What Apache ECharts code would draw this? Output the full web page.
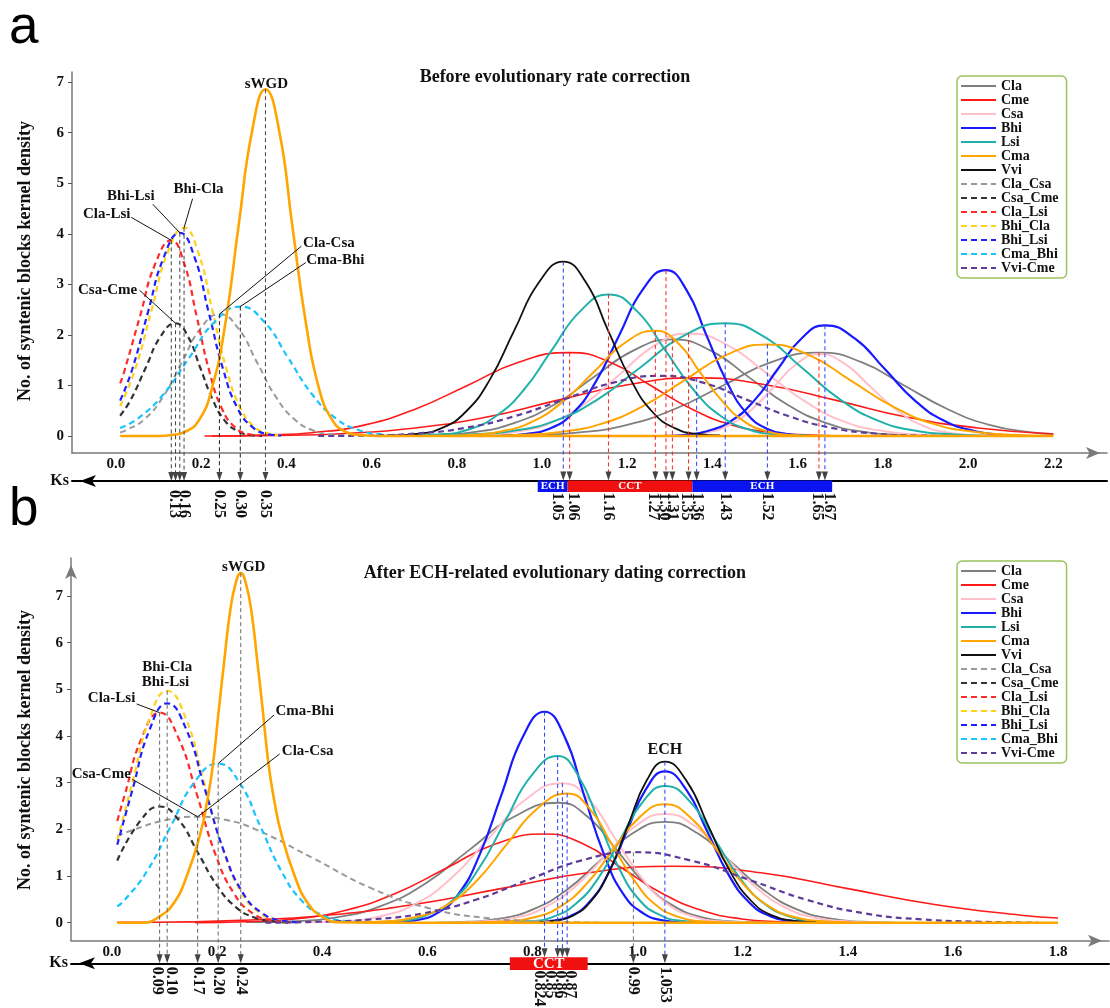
<!DOCTYPE html>
<html lang="en">
<head>
<meta charset="UTF-8">
<title>Syntenic blocks Ks kernel density</title>
<script src="https://cdn.jsdelivr.net/npm/echarts@6/dist/echarts.min.js"></script>
<style>
  html, body { margin: 0; padding: 0; background: #fff; }
  #chart { width: 1110px; height: 1008px; }
</style>
</head>
<body>
<div id="chart"></div>
<script>
// ---------------- data ----------------
var legendNames = ['Cla', 'Cme', 'Csa', 'Bhi', 'Lsi', 'Cma', 'Vvi', 'Cla_Csa', 'Csa_Cme', 'Cla_Lsi', 'Bhi_Cla', 'Bhi_Lsi', 'Cma_Bhi', 'Vvi-Cme'];
var xTicksA = [0.0, 0.2, 0.4, 0.6, 0.8, 1.0, 1.2, 1.4, 1.6, 1.8, 2.0, 2.2];
var xTicksB = [0.0, 0.2, 0.4, 0.6, 0.8, 1.0, 1.2, 1.4, 1.6, 1.8];
var yTicks = [0, 1, 2, 3, 4, 5, 6, 7];

// panel a : [Ks, density]
var a_Cla_1 = [[0.659,0.0],[0.751,0.02],[0.844,0.08],[0.936,0.26],[1.029,0.62],[1.121,1.16],[1.214,1.69],[1.306,1.91],[1.396,1.69],[1.486,1.16],[1.576,0.62],[1.666,0.26],[1.756,0.08],[1.846,0.02],[1.936,0.0]];
var a_Cla_2 = [[0.863,0.0],[0.975,0.02],[1.088,0.07],[1.2,0.22],[1.313,0.54],[1.425,1.0],[1.538,1.46],[1.65,1.65],[1.75,1.46],[1.85,1.0],[1.95,0.54],[2.05,0.22],[2.15,0.07],[2.2,0.04]];
var a_Cme_1 = [[0.225,0.0],[0.345,0.02],[0.465,0.07],[0.585,0.22],[0.705,0.54],[0.825,1.0],[0.945,1.46],[1.065,1.65],[1.16,1.46],[1.255,1.0],[1.35,0.54],[1.445,0.22],[1.54,0.07],[1.635,0.02],[1.73,0.0]];
var a_Cme_2 = [[0.208,0.0],[0.373,0.01],[0.538,0.05],[0.703,0.16],[0.868,0.37],[1.033,0.7],[1.198,1.01],[1.363,1.15],[1.528,1.01],[1.693,0.7],[1.858,0.37],[2.023,0.16],[2.2,0.04]];
var a_Csa_1 = [[0.784,0.0],[0.864,0.02],[0.944,0.09],[1.024,0.27],[1.104,0.66],[1.184,1.23],[1.264,1.79],[1.344,2.03],[1.437,1.79],[1.529,1.23],[1.622,0.66],[1.714,0.27],[1.807,0.09],[1.899,0.02],[1.992,0.0]];
var a_Csa_2 = [[1.283,0.0],[1.335,0.02],[1.388,0.07],[1.44,0.22],[1.493,0.53],[1.545,0.98],[1.598,1.43],[1.65,1.62],[1.71,1.43],[1.77,0.98],[1.83,0.53],[1.89,0.22],[1.95,0.07],[2.01,0.02],[2.07,0.0]];
var a_Bhi_1 = [[0.906,0.01],[0.961,0.04],[1.016,0.14],[1.071,0.44],[1.126,1.07],[1.181,1.99],[1.236,2.89],[1.291,3.28],[1.339,2.89],[1.386,1.99],[1.434,1.07],[1.481,0.44],[1.529,0.14],[1.576,0.04],[1.624,0.01]];
var a_Bhi_2 = [[1.279,0.0],[1.334,0.02],[1.389,0.1],[1.444,0.3],[1.499,0.71],[1.554,1.33],[1.609,1.93],[1.664,2.19],[1.734,1.93],[1.804,1.33],[1.874,0.71],[1.944,0.3],[2.014,0.1],[2.084,0.02],[2.154,0.0]];
var a_Lsi_1 = [[0.691,0.01],[0.757,0.03],[0.824,0.12],[0.89,0.38],[0.957,0.91],[1.023,1.7],[1.09,2.47],[1.156,2.8],[1.223,2.47],[1.289,1.7],[1.356,0.91],[1.422,0.38],[1.489,0.12],[1.555,0.03],[1.622,0.01]];
var a_Lsi_2 = [[0.73,0.0],[0.83,0.03],[0.93,0.1],[1.03,0.3],[1.13,0.72],[1.23,1.35],[1.33,1.97],[1.43,2.23],[1.52,1.97],[1.61,1.35],[1.7,0.72],[1.79,0.3],[1.88,0.1],[1.97,0.03],[2.06,0.0]];
var a_Cma_sWGD = [[0.01,0],[0.1,0],[0.131,0.02],[0.162,0.08],[0.194,0.3],[0.225,0.93],[0.257,2.23],[0.288,4.16],[0.32,6.05],[0.351,6.86],[0.383,6.05],[0.414,4.16],[0.446,2.23],[0.477,0.93],[0.509,0.3],[0.54,0.08],[0.572,0.02],[0.62,0],[2.2,0]];
var a_Cma_1 = [[0.759,0.0],[0.831,0.02],[0.904,0.09],[0.976,0.28],[1.049,0.68],[1.121,1.26],[1.194,1.84],[1.266,2.08],[1.319,1.84],[1.371,1.26],[1.424,0.68],[1.476,0.28],[1.529,0.09],[1.581,0.02],[1.634,0.0]];
var a_Cma_2 = [[0.847,0.0],[0.944,0.02],[1.042,0.08],[1.139,0.24],[1.237,0.59],[1.334,1.1],[1.432,1.6],[1.529,1.81],[1.627,1.6],[1.724,1.1],[1.822,0.59],[1.919,0.24],[2.017,0.08],[2.114,0.02],[2.2,0.0]];
var a_Vvi = [[0.648,0.01],[0.705,0.04],[0.763,0.15],[0.82,0.47],[0.878,1.12],[0.935,2.09],[0.993,3.04],[1.05,3.45],[1.103,3.04],[1.155,2.09],[1.208,1.12],[1.26,0.47],[1.313,0.15],[1.365,0.04],[1.418,0.01]];
var a_Cla_Csa = [[0.01,0.07],[0.023,0.11],[0.067,0.33],[0.111,0.78],[0.155,1.46],[0.199,2.13],[0.243,2.41],[0.287,2.13],[0.331,1.46],[0.375,0.78],[0.419,0.33],[0.463,0.11],[0.507,0.03],[0.551,0.0]];
var a_Csa_Cme = [[0.01,0.4],[0.035,0.72],[0.07,1.35],[0.105,1.97],[0.14,2.23],[0.169,1.97],[0.198,1.35],[0.227,0.72],[0.256,0.3],[0.285,0.1],[0.314,0.02],[0.343,0.0]];
var a_Cla_Lsi = [[0.01,1.04],[0.019,1.26],[0.056,2.35],[0.093,3.42],[0.13,3.87],[0.16,3.42],[0.19,2.35],[0.22,1.26],[0.25,0.52],[0.28,0.17],[0.31,0.04],[0.34,0.01]];
var a_Bhi_Cla = [[0.01,0.59],[0.046,1.34],[0.084,2.5],[0.122,3.64],[0.16,4.12],[0.193,3.64],[0.226,2.5],[0.259,1.34],[0.292,0.56],[0.325,0.18],[0.358,0.05],[0.391,0.01]];
var a_Bhi_Lsi = [[0.01,0.7],[0.038,1.31],[0.075,2.44],[0.113,3.55],[0.15,4.02],[0.184,3.55],[0.218,2.44],[0.252,1.31],[0.286,0.54],[0.32,0.18],[0.354,0.04],[0.388,0.01]];
var a_Cma_Bhi = [[0.01,0.16],[0.052,0.35],[0.112,0.83],[0.172,1.55],[0.232,2.26],[0.292,2.56],[0.348,2.26],[0.404,1.55],[0.46,0.83],[0.516,0.35],[0.572,0.11],[0.628,0.03],[0.684,0.0]];
var a_Vvi_Cme = [[0.475,0.0],[0.59,0.01],[0.705,0.05],[0.82,0.16],[0.935,0.39],[1.05,0.72],[1.165,1.05],[1.28,1.19],[1.38,1.05],[1.48,0.72],[1.58,0.39],[1.68,0.16],[1.78,0.05],[1.88,0.01],[1.98,0.0]];

// panel b : [Ks, density]
var b_Cla_1 = [[0.255,0.01],[0.34,0.03],[0.425,0.11],[0.51,0.35],[0.595,0.83],[0.68,1.56],[0.765,2.27],[0.85,2.57],[0.905,2.27],[0.96,1.56],[1.015,0.83],[1.07,0.35],[1.125,0.11],[1.18,0.03],[1.235,0.01]];
var b_Cla_2 = [[0.615,0.0],[0.677,0.02],[0.74,0.09],[0.802,0.29],[0.865,0.7],[0.927,1.31],[0.99,1.91],[1.052,2.16],[1.115,1.91],[1.177,1.31],[1.24,0.7],[1.302,0.29],[1.365,0.09],[1.427,0.02],[1.49,0.0]];
var b_Cme_1 = [[0.158,0.0],[0.253,0.02],[0.348,0.08],[0.443,0.26],[0.538,0.62],[0.633,1.15],[0.728,1.68],[0.823,1.9],[0.898,1.68],[0.973,1.15],[1.048,0.62],[1.123,0.26],[1.198,0.08],[1.273,0.02],[1.348,0.0]];
var b_Cme_2 = [[0.01,0.01],[0.08,0.01],[0.245,0.05],[0.41,0.16],[0.575,0.39],[0.74,0.73],[0.905,1.07],[1.07,1.21],[1.235,1.07],[1.4,0.73],[1.565,0.39],[1.73,0.16],[1.8,0.1]];
var b_Csa_1 = [[0.367,0.01],[0.437,0.03],[0.507,0.13],[0.577,0.4],[0.647,0.97],[0.717,1.81],[0.787,2.64],[0.857,2.99],[0.907,2.64],[0.957,1.81],[1.007,0.97],[1.057,0.4],[1.107,0.13],[1.157,0.03],[1.207,0.01]];
var b_Csa_2 = [[0.65,0.0],[0.707,0.03],[0.765,0.1],[0.822,0.32],[0.88,0.76],[0.937,1.41],[0.995,2.06],[1.052,2.33],[1.11,2.06],[1.167,1.41],[1.225,0.76],[1.282,0.32],[1.34,0.1],[1.397,0.03],[1.455,0.0]];
var b_Bhi_1 = [[0.536,0.01],[0.577,0.05],[0.618,0.2],[0.659,0.61],[0.7,1.47],[0.741,2.74],[0.782,3.99],[0.823,4.52],[0.861,3.99],[0.898,2.74],[0.936,1.47],[0.973,0.61],[1.011,0.2],[1.048,0.05],[1.086,0.01]];
var b_Bhi_2 = [[0.8,0.01],[0.836,0.04],[0.872,0.14],[0.908,0.44],[0.944,1.05],[0.98,1.97],[1.016,2.86],[1.052,3.24],[1.092,2.86],[1.132,1.97],[1.172,1.05],[1.212,0.44],[1.252,0.14],[1.292,0.04],[1.332,0.01]];
var b_Lsi_1 = [[0.498,0.01],[0.548,0.04],[0.598,0.16],[0.648,0.48],[0.698,1.16],[0.748,2.17],[0.798,3.15],[0.848,3.57],[0.887,3.15],[0.926,2.17],[0.965,1.16],[1.004,0.48],[1.043,0.16],[1.082,0.04],[1.121,0.01]];
var b_Lsi_2 = [[0.755,0.01],[0.797,0.03],[0.84,0.13],[0.882,0.4],[0.925,0.95],[0.967,1.78],[1.01,2.59],[1.052,2.93],[1.1,2.59],[1.147,1.78],[1.195,0.95],[1.242,0.4],[1.29,0.13],[1.337,0.03],[1.385,0.01]];
var b_Cma_sWGD = [[0.01,0],[0.06,0],[0.09,0.13],[0.117,0.41],[0.142,0.99],[0.168,1.91],[0.181,2.6],[0.192,3.38],[0.203,4.54],[0.214,5.65],[0.224,6.61],[0.235,7.26],[0.245,7.49],[0.255,7.26],[0.266,6.61],[0.276,5.65],[0.287,4.54],[0.298,3.38],[0.309,2.6],[0.322,1.91],[0.348,0.99],[0.373,0.41],[0.4,0.13],[0.43,0.01],[0.5,0],[1.8,0]];
var b_Cma_1 = [[0.464,0.01],[0.521,0.03],[0.579,0.12],[0.636,0.37],[0.694,0.9],[0.751,1.68],[0.809,2.44],[0.866,2.77],[0.909,2.44],[0.951,1.68],[0.994,0.9],[1.036,0.37],[1.079,0.12],[1.121,0.03],[1.164,0.01]];
var b_Cma_2 = [[0.702,0.01],[0.752,0.03],[0.802,0.11],[0.852,0.34],[0.902,0.82],[0.952,1.54],[1.002,2.24],[1.052,2.54],[1.102,2.24],[1.152,1.54],[1.202,0.82],[1.252,0.34],[1.302,0.11],[1.352,0.03],[1.402,0.01]];
var b_Vvi = [[0.807,0.01],[0.842,0.04],[0.877,0.15],[0.912,0.47],[0.947,1.12],[0.982,2.09],[1.017,3.04],[1.052,3.45],[1.093,3.04],[1.134,2.09],[1.175,1.12],[1.216,0.47],[1.257,0.15],[1.298,0.04],[1.339,0.01]];
var b_Cla_Csa = [[0.01,1.85],[0.043,2.0],[0.103,2.2],[0.163,2.27],[0.218,2.2],[0.273,2.0],[0.383,1.38],[0.493,0.74],[0.603,0.31],[0.713,0.1],[0.823,0.03],[0.933,0.0]];
var b_Csa_Cme = [[0.01,1.33],[0.055,2.2],[0.091,2.49],[0.127,2.2],[0.163,1.51],[0.199,0.81],[0.235,0.34],[0.271,0.11],[0.307,0.03],[0.343,0.0]];
var b_Cla_Lsi = [[0.01,2.18],[0.024,2.73],[0.057,3.97],[0.091,4.5],[0.126,3.97],[0.162,2.73],[0.197,1.46],[0.233,0.61],[0.268,0.2],[0.304,0.05],[0.339,0.01]];
var b_Bhi_Cla = [[0.01,1.76],[0.039,3.01],[0.072,4.39],[0.105,4.97],[0.14,4.39],[0.175,3.01],[0.21,1.61],[0.245,0.67],[0.28,0.22],[0.315,0.06],[0.35,0.01]];
var b_Bhi_Lsi = [[0.01,1.67],[0.039,2.85],[0.072,4.15],[0.105,4.7],[0.141,4.15],[0.177,2.85],[0.213,1.53],[0.249,0.64],[0.285,0.21],[0.321,0.05],[0.357,0.01]];
var b_Cma_Bhi = [[0.01,0.35],[0.022,0.46],[0.067,1.11],[0.112,2.07],[0.157,3.01],[0.202,3.41],[0.242,3.01],[0.282,2.07],[0.322,1.11],[0.362,0.46],[0.402,0.15],[0.442,0.04],[0.482,0.01]];
var b_Vvi_Cme = [[0.292,0.0],[0.392,0.02],[0.492,0.07],[0.592,0.2],[0.692,0.49],[0.792,0.92],[0.892,1.33],[0.992,1.51],[1.102,1.33],[1.212,0.92],[1.322,0.49],[1.432,0.2],[1.542,0.07],[1.652,0.02],[1.762,0.0]];

// peak markers projected onto the Ks axis: [Ks, peak density]
var marksA = [[0.13,3.87],[0.14,2.23],[0.15,4.02],[0.16,4.12],[0.243,2.41],[0.292,2.56],[0.351,6.86],[1.05,3.45],[1.065,1.65],[1.156,2.8],[1.266,2.08],[1.291,3.28],[1.306,1.91],[1.344,2.03],[1.363,1.15],[1.43,2.23],[1.529,1.81],[1.65,1.65],[1.664,2.19]];
var markLabelsA = ['0.13','','','0.16','0.25','0.30','0.35','1.05','1.06','1.16','1.27','1.30','1.31','1.35','1.36','1.43','1.52','1.65','1.67'];
var marksB = [[0.0906,4.5],[0.105,4.97],[0.163,2.27],[0.202,3.41],[0.245,7.49],[0.823,4.52],[0.848,3.57],[0.857,2.99],[0.866,2.77],[0.992,1.51],[1.052,3.45]];
var markLabelsB = ['0.09','0.10','0.17','0.20','0.24','0.824','0.85','0.86','0.87','0.99','1.053'];

// ECH / CCT ranges on the Ks axis: [from, to]
var rangesA = [[0.99,1.06],[1.06,1.353],[1.353,1.681]];
var rangeLabelsA = ['ECH','CCT','ECH'];
var rangesB = [[0.757,0.905]];
var rangeLabelsB = ['CCT'];

// annotated peaks
var annoA = [[0.351,6.86],[0.15,4.02],[0.16,4.12],[0.13,3.87],[0.14,2.23],[0.243,2.41],[0.292,2.56]];
var annoTextA = ['sWGD','Bhi-Lsi','Bhi-Cla','Cla-Lsi','Csa-Cme','Cla-Csa','Cma-Bhi'];
var annoB = [[0.245,7.49],[0.105,4.97],[0.105,4.97],[0.0906,4.5],[0.202,3.41],[0.163,2.27],[0.163,2.27],[1.052,3.45]];
var annoTextB = ['sWGD','Bhi-Cla','Bhi-Lsi','Cla-Lsi','Cma-Bhi','Cla-Csa','Csa-Cme','ECH'];

// ---------------- styles / layout ----------------
var SERIF = '"Liberation Serif", "Times New Roman", serif';
var styles = {
  'Cla': { color: '#7f7f7f', width: 1.8 },
  'Cme': { color: '#ff1a1a', width: 1.6 },
  'Csa': { color: '#ffc0cb', width: 2 },
  'Bhi': { color: '#1a1aff', width: 2.2 },
  'Lsi': { color: '#20b2aa', width: 2 },
  'Cma': { color: '#ffa500', width: 2 },
  'Vvi': { color: '#111111', width: 1.8 },
  'Cla_Csa': { color: '#9a9a9a', width: 2, dash: true },
  'Csa_Cme': { color: '#333333', width: 2.2, dash: true },
  'Cla_Lsi': { color: '#ff2a2a', width: 2.2, dash: true },
  'Bhi_Cla': { color: '#ffd21a', width: 2.2, dash: true },
  'Bhi_Lsi': { color: '#2020ff', width: 2.2, dash: true },
  'Cma_Bhi': { color: '#19c3ff', width: 2.2, dash: true },
  'Vvi-Cme': { color: '#5e3c99', width: 2.2, dash: true }
};
var markColorA = ['#444','#444','#444','#444','#222','#222','#444','#2a3cff','#ff2020','#ff2020','#ff2020','#ff2020','#ff2020','#ff2020','#2a3cff','#2a3cff','#2a3cff','#ff2020','#2a3cff'];
var markNudgeA = [2.5,0,0,0,0,0,0,-6,3,0,-2,-2,0,-2,0,0,0,-2,4];
var markColorB = ['#666','#666','#666','#666','#666','#2a3cff','#2a3cff','#2a3cff','#2a3cff','#777','#2a3cff'];
var markNudgeB = [-2.6,3.5,0,0,0,-5.5,-7.6,-2.4,3,0,0];
var rangeColorA = ['#0a14f0','#f01010','#0a14f0'];
var rangeColorB = ['#f01010'];
var annoOffA = [[1,-5],[-49,-37,-27,-28.5],[14.5,-38.5,8.5,-29],[-64.5,-26,-40,-23],[-68,-33,-36,-33],[109.5,-71.5,82,-68],[95,-46.5,65.5,-44]];
var annoOffB = [[3,-6],[0,-23.5],[-1.7,-8.3],[-48,-14.7,-23,-8.7],[86.5,-52,56,-48.6],[110,-66,82,-62.8],[-96.4,-42.8,-65.4,-37.5],[0,-12]];
var layA = { ksOffset: 28, barTop: -0.5, barBottom: 11, labelGap: 9, barFont: 'bold 11px ' + SERIF };
var layB = { ksOffset: 22.6, barTop: -6, barBottom: 6.7, labelGap: 3.5, barFont: 'bold 15px ' + SERIF };

var curvesA = [
  ['Cla', a_Cla_1], ['Cla', a_Cla_2], ['Cme', a_Cme_1], ['Cme', a_Cme_2],
  ['Csa', a_Csa_1], ['Csa', a_Csa_2], ['Bhi', a_Bhi_1], ['Bhi', a_Bhi_2],
  ['Lsi', a_Lsi_1], ['Lsi', a_Lsi_2], ['Cma', a_Cma_1], ['Cma', a_Cma_2], ['Vvi', a_Vvi],
  ['Cla_Csa', a_Cla_Csa], ['Csa_Cme', a_Csa_Cme], ['Cla_Lsi', a_Cla_Lsi], ['Bhi_Cla', a_Bhi_Cla],
  ['Bhi_Lsi', a_Bhi_Lsi], ['Cma_Bhi', a_Cma_Bhi], ['Vvi-Cme', a_Vvi_Cme], ['Cma', a_Cma_sWGD]
];
var curvesB = [
  ['Cla', b_Cla_1], ['Cla', b_Cla_2], ['Cme', b_Cme_1], ['Cme', b_Cme_2],
  ['Csa', b_Csa_1], ['Csa', b_Csa_2], ['Bhi', b_Bhi_1], ['Bhi', b_Bhi_2],
  ['Lsi', b_Lsi_1], ['Lsi', b_Lsi_2], ['Cma', b_Cma_1], ['Cma', b_Cma_2], ['Vvi', b_Vvi],
  ['Cla_Csa', b_Cla_Csa], ['Csa_Cme', b_Csa_Cme], ['Cla_Lsi', b_Cla_Lsi], ['Bhi_Cla', b_Bhi_Cla],
  ['Bhi_Lsi', b_Bhi_Lsi], ['Cma_Bhi', b_Cma_Bhi], ['Vvi-Cme', b_Vvi_Cme], ['Cma', b_Cma_sWGD]
];
var thick = [a_Cma_sWGD, b_Cma_sWGD];

// ---------------- builders ----------------
function curve(name, pts, xi, yi) {
  var s = styles[name];
  var w = thick.indexOf(pts) >= 0 ? 2.6 : s.width;
  return {
    name: name, type: 'line', xAxisIndex: xi, yAxisIndex: yi, data: pts,
    smooth: 0.5, symbol: 'none', showSymbol: false, silent: true,
    lineStyle: { color: s.color, width: w, type: s.dash ? [6, 4] : 'solid' },
    itemStyle: { color: s.color },
    emphasis: { disabled: true }
  };
}

function inRange(ks, ranges) {
  for (var i = 0; i < ranges.length; i++) {
    if (ks >= ranges[i][0] && ks <= ranges[i][1]) return true;
  }
  return false;
}

function markSeries(xi, yi, pts, labels, colors, nudges, ranges, lay) {
  return {
    type: 'custom', xAxisIndex: xi, yAxisIndex: yi, silent: true, clip: false, z: 5,
    data: pts,
    renderItem: function (params, api) {
      var i = params.dataIndex;
      var ks = api.value(0);
      var p = api.coord([ks, api.value(1)]);
      var cs = params.coordSys;
      var lineY = cs.y + cs.height + lay.ksOffset;
      var hit = inRange(ks, ranges);
      var tipY = hit ? lineY + lay.barTop : lineY;
      var labY = hit ? Math.max(lineY + lay.barBottom + 0.5, lineY + lay.labelGap) : lineY + lay.labelGap;
      var kids = [
        { type: 'line', shape: { x1: p[0], y1: p[1], x2: p[0], y2: tipY - 8 },
          style: { stroke: colors[i], lineWidth: 1, lineDash: [4, 3] } },
        { type: 'polygon', shape: { points: [[p[0] - 3, tipY - 9], [p[0] + 3, tipY - 9], [p[0], tipY]] },
          style: { fill: '#444' } }
      ];
      if (labels[i]) {
        kids.push({ type: 'text', x: p[0] + nudges[i], y: labY, rotation: -Math.PI / 2,
          style: { text: labels[i], font: 'bold 16px ' + SERIF, fill: '#111', align: 'left', verticalAlign: 'middle' } });
      }
      return { type: 'group', children: kids };
    }
  };
}

function rangeSeries(xi, yi, ranges, labels, colors, lay) {
  return {
    type: 'custom', xAxisIndex: xi, yAxisIndex: yi, silent: true, clip: false, z: 4,
    data: ranges,
    renderItem: function (params, api) {
      var i = params.dataIndex;
      var s = api.coord([api.value(0), 0])[0];
      var e = api.coord([api.value(1), 0])[0];
      var cs = params.coordSys;
      var lineY = cs.y + cs.height + lay.ksOffset;
      return { type: 'group', children: [
        { type: 'rect', shape: { x: s, y: lineY + lay.barTop, width: e - s, height: lay.barBottom - lay.barTop },
          style: { fill: colors[i] } },
        { type: 'text', x: (s + e) / 2, y: lineY + (lay.barTop + lay.barBottom) / 2,
          style: { text: labels[i], font: lay.barFont, fill: '#fff', align: 'center', verticalAlign: 'middle' } }
      ] };
    }
  };
}

function annoSeries(xi, yi, pts, texts, offs) {
  return {
    type: 'custom', xAxisIndex: xi, yAxisIndex: yi, silent: true, clip: false, z: 6,
    data: pts,
    renderItem: function (params, api) {
      var i = params.dataIndex;
      var p = api.coord([api.value(0), api.value(1)]);
      var o = offs[i];
      var size = texts[i] === 'ECH' ? 16 : 15;
      var kids = [{ type: 'text', x: p[0] + o[0], y: p[1] + o[1],
        style: { text: texts[i], font: 'bold ' + size + 'px ' + SERIF, fill: '#111', align: 'center', verticalAlign: 'middle' } }];
      if (o.length > 2) {
        kids.push({ type: 'line', shape: { x1: p[0] + o[2], y1: p[1] + o[3], x2: p[0], y2: p[1] },
          style: { stroke: '#111', lineWidth: 1 } });
      }
      return { type: 'group', children: kids };
    }
  };
}

var tickFont = { color: '#111', fontFamily: SERIF, fontWeight: 'bold', fontSize: 15 };

function mainX(grid, min, max, ticks) {
  return {
    type: 'value', gridIndex: grid, min: min, max: max, position: 'bottom',
    axisLine: { show: true, onZero: false, symbol: ['none', 'arrow'], symbolSize: [9, 14], symbolOffset: [0, -7],
      lineStyle: { color: '#7a7a7a', width: 1.5 } },
    axisTick: { show: false },
    splitLine: { show: false },
    axisLabel: Object.assign({ customValues: ticks, margin: 4, formatter: function (v) { return v.toFixed(1); } }, tickFont)
  };
}

function ksX(grid, min, max, offset) {
  return {
    type: 'value', gridIndex: grid, min: min, max: max, position: 'bottom', offset: offset,
    name: 'Ks', nameLocation: 'start', nameGap: 3,
    nameTextStyle: { color: '#111', fontFamily: SERIF, fontWeight: 'bold', fontSize: 16 },
    axisLine: { show: true, onZero: false, symbol: ['arrow', 'none'], symbolSize: [9, 16], symbolOffset: [8, 0],
      lineStyle: { color: '#000', width: 2 } },
    axisTick: { show: false }, axisLabel: { show: false }, splitLine: { show: false }
  };
}

function yAx(grid, min, max, arrow) {
  return {
    type: 'value', gridIndex: grid, min: min, max: max,
    axisLine: { show: true, onZero: false, symbol: arrow ? ['none', 'arrow'] : 'none', symbolSize: [9, 14], symbolOffset: [0, -7],
      lineStyle: { color: '#7a7a7a', width: 1.5 } },
    axisTick: { show: true, customValues: yTicks, length: 4, lineStyle: { color: '#555' } },
    splitLine: { show: false },
    axisLabel: Object.assign({ customValues: yTicks, margin: 8 }, tickFont)
  };
}

function legendAt(top) {
  return {
    data: legendNames, orient: 'vertical', left: 957, top: top,
    itemWidth: 35, itemHeight: 14, itemGap: 0, padding: [3, 8, 3, 3],
    borderColor: '#9cc45e', borderWidth: 1.5, borderRadius: 5, backgroundColor: '#fff',
    selectedMode: false, itemStyle: { opacity: 0 },
    textStyle: { color: '#111', fontFamily: SERIF, fontWeight: 'bold', fontSize: 14, lineHeight: 14 }
  };
}

var series = [];
curvesA.forEach(function (c) { series.push(curve(c[0], c[1], 0, 0)); });
curvesB.forEach(function (c) { series.push(curve(c[0], c[1], 2, 1)); });
series.push(rangeSeries(0, 0, rangesA, rangeLabelsA, rangeColorA, layA));
series.push(rangeSeries(2, 1, rangesB, rangeLabelsB, rangeColorB, layB));
series.push(markSeries(0, 0, marksA, markLabelsA, markColorA, markNudgeA, rangesA, layA));
series.push(markSeries(2, 1, marksB, markLabelsB, markColorB, markNudgeB, rangesB, layB));
series.push(annoSeries(0, 0, annoA, annoTextA, annoOffA));
series.push(annoSeries(2, 1, annoB, annoTextB, annoOffB));

var chart = echarts.init(document.getElementById('chart'), null, { renderer: 'canvas' });
chart.setOption({
  animation: false,
  backgroundColor: '#fff',
  title: [
    { text: 'Before evolutionary rate correction', left: 'center', top: 68, padding: 0,
      textStyle: { color: '#111', fontFamily: SERIF, fontWeight: 'bold', fontSize: 18 } },
    { text: 'After ECH-related evolutionary dating correction', left: 'center', top: 564, padding: 0,
      textStyle: { color: '#111', fontFamily: SERIF, fontWeight: 'bold', fontSize: 18 } }
  ],
  legend: [legendAt(76), legendAt(561)],
  grid: [
    { left: 72, top: 72, width: 1035, height: 381, containLabel: false, outerBoundsMode: 'none' },
    { left: 71, top: 558, width: 1038, height: 382.7, containLabel: false, outerBoundsMode: 'none' }
  ],
  xAxis: [
    mainX(0, -0.103, 2.326, xTicksA),
    ksX(0, -0.103, 2.326, layA.ksOffset),
    mainX(1, -0.078, 1.897, xTicksB),
    ksX(1, -0.078, 1.897, layB.ksOffset)
  ],
  yAxis: [
    yAx(0, -0.336, 7.2, false),
    yAx(1, -0.386, 7.814, true)
  ],
  graphic: [
    { type: 'text', x: 9, y: 28, style: { text: 'a', font: '53px "Liberation Sans", Arial, sans-serif', fill: '#000', verticalAlign: 'middle' } },
    { type: 'text', x: 9, y: 510, style: { text: 'b', font: '53px "Liberation Sans", Arial, sans-serif', fill: '#000', verticalAlign: 'middle' } },
    { type: 'text', x: 25, y: 261, rotation: Math.PI / 2,
      style: { text: 'No. of syntenic blocks kernel density', font: 'bold 18px ' + SERIF, fill: '#111', align: 'center', verticalAlign: 'middle' } },
    { type: 'text', x: 25, y: 750, rotation: Math.PI / 2,
      style: { text: 'No. of syntenic blocks kernel density', font: 'bold 18px ' + SERIF, fill: '#111', align: 'center', verticalAlign: 'middle' } }
  ],
  series: series
});

window.addEventListener('resize', function () { chart.resize(); });
</script>
</body>
</html>
